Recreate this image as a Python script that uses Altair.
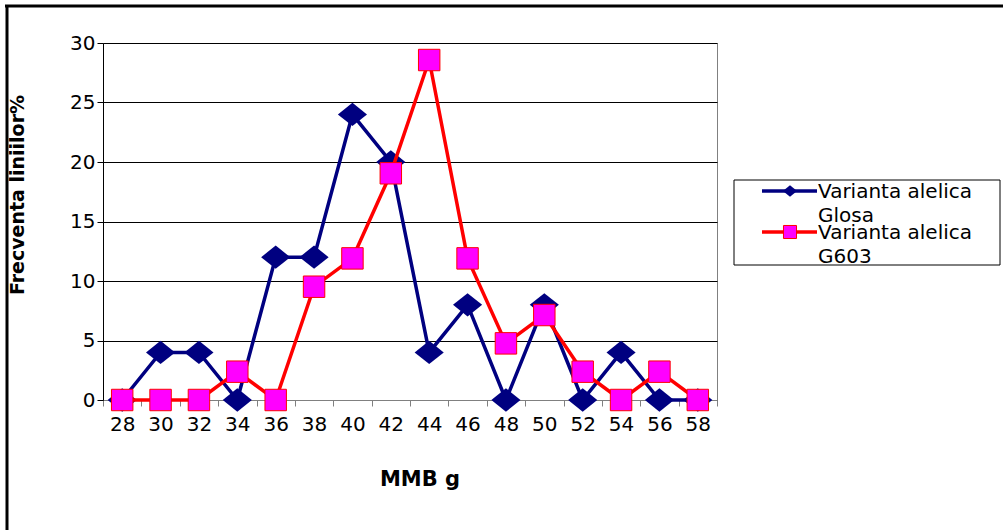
import altair as alt
import pandas as pd

# MMB classes (g) and line frequencies (%) for the two allelic variants
mmb = [28, 30, 32, 34, 36, 38, 40, 42, 44, 46, 48, 50, 52, 54, 56, 58]
glosa = [0, 4, 4, 0, 12, 12, 24, 20, 4, 8, 0, 8, 0, 4, 0, 0]
g603 = [0, 0, 0, 2.38, 0, 9.52, 11.9, 19.05, 28.57, 11.9, 4.76, 7.14, 2.38, 0, 2.38, 0]

y_ticks = [0, 5, 10, 15, 20, 25, 30]
legend_labels = ["Varianta alelica\nGlosa", "Varianta alelica\nG603"]
x_title = "MMB g"
y_title = "Frecventa liniilor%"

BLUE = "#000080"
RED = "#FF0000"
PINK = "#FF00FF"
FONT = "DejaVu Sans"
DIAMOND = "M-1,0L0,-0.8L1,0L0,0.8Z"

W, H = 614, 357
PAD_L, PAD_T = 103, 43

df = pd.DataFrame({
    "mmb": mmb * 2,
    "freq": glosa + g603,
    "serie": ["Glosa"] * len(mmb) + ["G603"] * len(mmb),
})
one = pd.DataFrame({"k": [0]})

x_enc = alt.X(
    "mmb:O",
    sort=mmb,
    scale=alt.Scale(type="band", paddingInner=0, paddingOuter=0),
    axis=alt.Axis(
        title=None, labelAngle=0, tickBand="extent", grid=False,
        labelFont=FONT, labelFontSize=20, labelColor="#000000", labelPadding=8,
        tickColor="#808080", tickSize=6, domainColor="#808080", domainWidth=1,
    ),
)
y_enc = alt.Y(
    "freq:Q",
    scale=alt.Scale(domain=[0, 30], nice=False, zero=True),
    axis=alt.Axis(
        title=None, values=y_ticks, grid=True, gridColor="#000000", gridWidth=1,
        labelFont=FONT, labelFontSize=20, labelColor="#000000", labelPadding=2,
        tickColor="#000000", tickSize=6, domainColor="#000000", domainWidth=1,
    ),
)

base = alt.Chart(df).encode(x=x_enc, y=y_enc)

blue_line = base.transform_filter(alt.datum.serie == "Glosa").mark_line(
    color=BLUE, strokeWidth=3.5)
blue_pts = base.transform_filter(alt.datum.serie == "Glosa").mark_point(
    shape=DIAMOND, size=850, filled=True, color=BLUE, opacity=1)
red_line = base.transform_filter(alt.datum.serie == "G603").mark_line(
    color=RED, strokeWidth=3.5)
red_pts = base.transform_filter(alt.datum.serie == "G603").mark_point(
    shape="square", size=460, filled=True, fill=PINK, stroke=RED, strokeWidth=1, opacity=1)

# Legend drawn by hand (box, sample lines, symbols, wrapped labels)
lx0, lx1 = 734 - PAD_L, 1000 - PAD_L
ly0, ly1 = 180 - PAD_T, 265 - PAD_T
legend_box = alt.Chart(one).mark_rect(fill="white", stroke="#000000", strokeWidth=1).encode(
    x=alt.value(lx0), x2=alt.value(lx1), y=alt.value(ly0), y2=alt.value(ly1))

def legend_entry(yc, color, label, symbol):
    line = alt.Chart(one).mark_rule(color=color, strokeWidth=3.5).encode(
        x=alt.value(762 - PAD_L), x2=alt.value(817 - PAD_L), y=alt.value(yc))
    txt = alt.Chart(one).mark_text(
        text=label, lineBreak="\n", lineHeight=24, align="left", baseline="alphabetic",
        font=FONT, fontSize=20, color="#000000").encode(
        x=alt.value(818 - PAD_L), y=alt.value(yc + 7))
    return [line, symbol.encode(x=alt.value(790 - PAD_L), y=alt.value(yc)), txt]

sym_blue = alt.Chart(one).mark_point(shape=DIAMOND, size=200,
                                     filled=True, color=BLUE, opacity=1)
sym_red = alt.Chart(one).mark_point(shape="square", size=170, filled=True, fill=PINK,
                                    stroke=RED, strokeWidth=1, opacity=1)
legend_layers = [legend_box]
legend_layers += legend_entry(191 - PAD_T, BLUE, legend_labels[0], sym_blue)
legend_layers += legend_entry(232 - PAD_T, RED, legend_labels[1], sym_red)

# Axis titles
x_title_mark = alt.Chart(one).mark_text(
    text=x_title, font=FONT, fontSize=21, fontWeight="bold", align="center",
    baseline="alphabetic", color="#000000").encode(
    x=alt.value(420 - PAD_L), y=alt.value(486 - PAD_T))
y_title_mark = alt.Chart(one).mark_text(
    text=y_title, font=FONT, fontSize=19, fontWeight="bold", align="center",
    baseline="middle", angle=270, color="#000000").encode(
    x=alt.value(18 - PAD_L), y=alt.value(195 - PAD_T))

# Outer frame (top and left edges)
frame_top = alt.Chart(one).mark_rule(color="#000000", strokeWidth=3).encode(
    x=alt.value(5 - PAD_L), x2=alt.value(1003 - PAD_L), y=alt.value(6 - PAD_T))
frame_left = alt.Chart(one).mark_rule(color="#000000", strokeWidth=3).encode(
    x=alt.value(7 - PAD_L), y=alt.value(5 - PAD_T), y2=alt.value(530 - PAD_T))

chart = alt.layer(
    blue_line, blue_pts, red_line, red_pts,
    *legend_layers, x_title_mark, y_title_mark, frame_top, frame_left,
).properties(
    width=W, height=H,
    autosize=alt.AutoSizeParams(type="none"),
    padding={"left": PAD_L, "top": PAD_T, "right": 1003 - PAD_L - W, "bottom": 530 - PAD_T - H},
    background="white",
).configure_view(
    stroke="#808080", strokeWidth=1,
)

chart.save("out.html", embed_options={"renderer": "svg", "actions": False})
